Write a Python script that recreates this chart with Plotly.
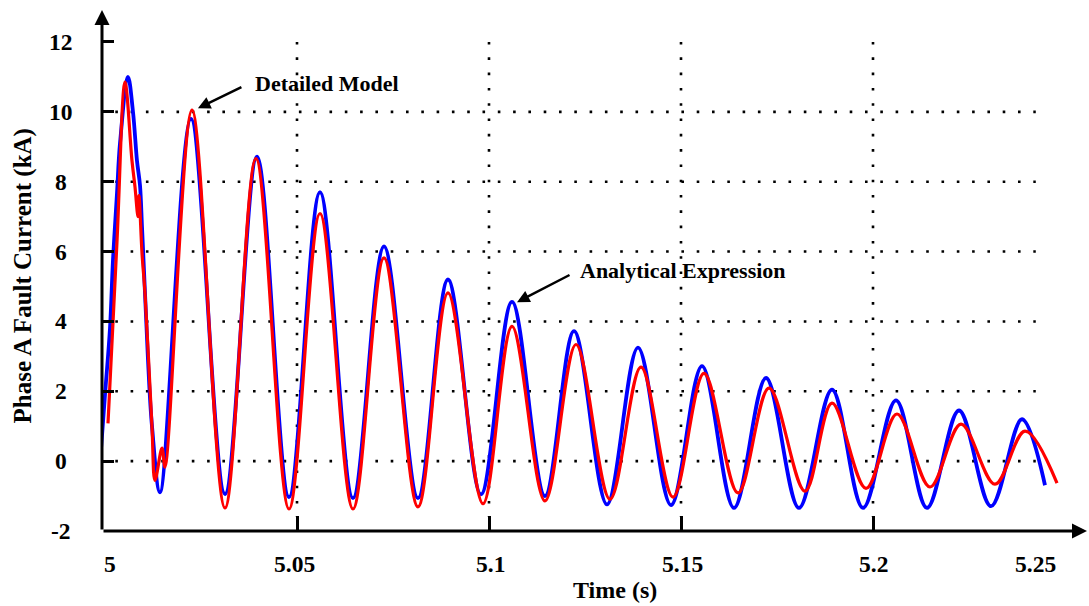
import plotly.graph_objects as go

# ---------------- data ----------------
# Analytical Expression (blue) : time [s], phase A fault current [kA]
blue_t = [4.9988, 5.0000, 5.00130, 5.00208, 5.00313, 5.00391, 5.00599, 5.00729, 5.00833, 5.00911,
          5.00964, 5.01042, 5.01120, 5.01224, 5.01432, 5.02240, 5.03125, 5.03958, 5.04792, 5.05599,
          5.06458, 5.07266, 5.08151, 5.08932, 5.09792, 5.10599, 5.11458, 5.12214, 5.13073,
          5.13880, 5.14740, 5.15547, 5.16380, 5.17214, 5.18073, 5.18932, 5.19740, 5.20599,
          5.21406, 5.22240, 5.23073, 5.23880, 5.24479]
blue_i = [0.10, 1.90, 3.80, 5.75, 7.67, 9.10, 11.00, 10.00, 8.60, 7.90,
          6.70, 4.80, 2.90, 1.00, -0.89, 9.80, -0.94, 8.72, -1.03, 7.70,
          -1.06, 6.15, -1.06, 5.20, -0.95, 4.56, -1.00, 3.72, -1.24,
          3.25, -1.26, 2.72, -1.34, 2.38, -1.34, 2.05, -1.34, 1.74,
          -1.34, 1.45, -1.29, 1.20, -0.69]

# Detailed Model (red)
red_t = [5.00078, 5.00313, 5.00521, 5.00703, 5.00781, 5.00859, 5.00885, 5.00964, 5.01042,
         5.01224, 5.01302, 5.01484, 5.01563, 5.02266, 5.03125, 5.03932, 5.04792, 5.05599,
         5.06458, 5.07266, 5.08151, 5.08932, 5.09844, 5.10599, 5.11458, 5.12266, 5.13151,
         5.13958, 5.14792, 5.15599, 5.16484, 5.17292, 5.18229, 5.18932, 5.19818, 5.20625,
         5.21484, 5.22292, 5.23177, 5.23958, 5.24792]
red_i = [1.08, 6.30, 10.85, 8.60, 7.85, 7.00, 7.60, 5.95, 4.80,
         0.97, -0.55, 0.37, -0.17, 10.05, -1.34, 8.66, -1.37, 7.09,
         -1.37, 5.82, -1.31, 4.82, -1.22, 3.86, -1.14, 3.34, -1.09,
         2.69, -1.03, 2.51, -0.91, 2.09, -0.86, 1.66, -0.78, 1.35,
         -0.74, 1.06, -0.66, 0.86, -0.63]

x_tick_vals = [5.0, 5.05, 5.1, 5.15, 5.2, 5.25]
x_tick_text = ["5", "5.05", "5.1", "5.15", "5.2", "5.25"]
y_tick_vals = [12, 10, 8, 6, 4, 2, 0, -2]
y_tick_text = ["12", "10", "8", "6", "4", "2", "0", "-2"]
grid_x = [5.05, 5.1, 5.15, 5.2]
grid_y = [10, 8, 6, 4, 2, 0]

x_title = "Time (s)"
y_title = "Phase A Fault Current (kA)"
label_blue = "Analytical Expression"
label_red = "Detailed Model"

# ---------------- styling ----------------
FONT = "Liberation Serif, Times New Roman, serif"
FS_TICK = 23.5
FS_XT = 24
FS_YT = 25
FS_CALL = 22
x_label_shift = [5, -3, 1, 1, 0, -30]

fig = go.Figure()
fig.add_trace(go.Scatter(x=blue_t, y=blue_i, mode="lines", name=label_blue,
                         line=dict(color="#0000ff", width=3.8, shape="spline", smoothing=1.0)))
fig.add_trace(go.Scatter(x=red_t, y=red_i, mode="lines", name=label_red,
                         line=dict(color="#ff0000", width=3.2, shape="spline", smoothing=1.0)))

shapes = []
dot = "2.6px,12.7px"
for gy in grid_y:
    shapes.append(dict(type="line", xref="paper", yref="y", x0=0.0135, x1=0.948, y0=gy, y1=gy,
                       line=dict(color="black", width=2.6, dash=dot), layer="below"))
for gx in grid_x:
    shapes.append(dict(type="line", xref="x", yref="y", x0=gx, x1=gx, y0=12, y1=-1.6,
                       line=dict(color="black", width=2.6, dash=dot), layer="below"))

ann = []
# axis lines with arrow heads
ann.append(dict(xref="paper", yref="paper", x=0, y=1, ax=0, ay=521, text="", showarrow=True,
                arrowhead=2, arrowsize=1.0, arrowwidth=3, arrowcolor="black"))
ann.append(dict(xref="paper", yref="paper", x=1, y=0, ax=-985, ay=0, text="", showarrow=True,
                arrowhead=2, arrowsize=1.0, arrowwidth=3, arrowcolor="black"))
# tick labels
for v, t in zip(y_tick_vals, y_tick_text):
    ann.append(dict(xref="paper", yref="y", x=0, y=v, xshift=-41, text="<b>%s</b>" % t,
                    showarrow=False, xanchor="center", yanchor="middle",
                    font=dict(family=FONT, size=FS_TICK, color="black")))
for v, t, s in zip(x_tick_vals, x_tick_text, x_label_shift):
    ann.append(dict(xref="x", yref="paper", x=v, y=0, xshift=s, yshift=-33, text="<b>%s</b>" % t,
                    showarrow=False, xanchor="center", yanchor="middle",
                    font=dict(family=FONT, size=FS_TICK, color="black")))
# axis titles
ann.append(dict(xref="paper", yref="paper", x=0.5208, y=-0.113, text="<b>%s</b>" % x_title,
                showarrow=False, xanchor="center", yanchor="middle",
                font=dict(family=FONT, size=FS_XT, color="black")))
ann.append(dict(xref="paper", yref="paper", x=-0.080, y=0.489, text="<b>%s</b>" % y_title,
                textangle=-90, showarrow=False, xanchor="center", yanchor="middle",
                font=dict(family=FONT, size=FS_YT, color="black")))
# callouts
ann.append(dict(xref="x", yref="y", x=5.0242, y=10.1, ax=45, ay=-22, text="", showarrow=True,
                arrowhead=2, arrowsize=1.0, arrowwidth=2.5, arrowcolor="black"))
ann.append(dict(xref="x", yref="y", x=5.0386, y=10.82, text="<b>%s</b>" % label_red,
                showarrow=False, xanchor="left", yanchor="middle",
                font=dict(family=FONT, size=FS_CALL, color="black")))
ann.append(dict(xref="x", yref="y", x=5.1073, y=4.55, ax=54, ay=-28, text="", showarrow=True,
                arrowhead=2, arrowsize=1.0, arrowwidth=2.5, arrowcolor="black"))
ann.append(dict(xref="x", yref="y", x=5.1232, y=5.47, text="<b>%s</b>" % label_blue,
                showarrow=False, xanchor="left", yanchor="middle",
                font=dict(family=FONT, size=FS_CALL, color="black")))

fig.update_layout(
    width=1089, height=606,
    margin=dict(l=102, r=2, t=10, b=75),
    paper_bgcolor="white", plot_bgcolor="white",
    showlegend=False,
    shapes=shapes, annotations=ann,
    xaxis=dict(range=[4.99922, 5.25573], showgrid=False, zeroline=False, showline=False,
               ticks="inside", tickvals=grid_x, ticklen=15, tickwidth=2.5, tickcolor="black",
               showticklabels=False),
    yaxis=dict(range=[-2, 12.916], showgrid=False, zeroline=False, showline=False,
               ticks="inside", tickvals=y_tick_vals, ticklen=12, tickwidth=3, tickcolor="black",
               showticklabels=False),
)

fig.write_html("out.html")
